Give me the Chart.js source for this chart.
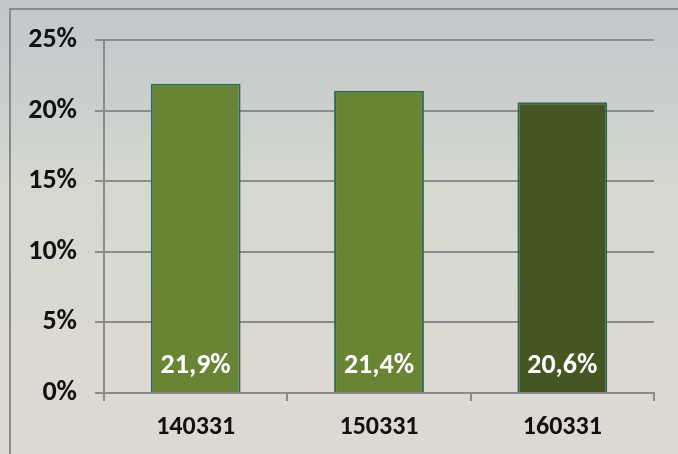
<!DOCTYPE html>
<html>
<head>
<meta charset="utf-8">
<script src="https://cdn.jsdelivr.net/npm/chart.js@4.4.1/dist/chart.umd.min.js"></script>
<style>
  html, body { margin: 0; padding: 0; }
  body {
    width: 678px; height: 454px; overflow: hidden; position: relative;
    background: linear-gradient(to bottom, #c1c7cb 0%, #c9cecd 20%, #d5d8cf 40%, #d8d9d0 60%, #dcd9d2 80%, #ddd9d2 100%);
  }
  #frame {
    position: absolute; left: 9px; top: 8px; right: -5px; bottom: -5px;
    border-left: 2px solid #8b8b8b; border-top: 2px solid #8b8b8b;
  }
  #wrap { position: absolute; left: 0; top: 0; width: 678px; height: 454px; }
</style>
</head>
<body>
<div id="frame"></div>
<div id="wrap"><canvas id="chart" width="678" height="454"></canvas></div>
<script>
let categories = ['140331', '150331', '160331']
let values = [21.9, 21.4, 20.6]
let value_labels = ['21,9%', '21,4%', '20,6%']
let bar_colors = ['#6a8435', '#6a8435', '#465623']
let y_ticks = [0, 5, 10, 15, 20, 25]

let font_family = "Carlito, 'Open Sans', sans-serif"
let grid_color = '#8b8b8b'

let bar_labels = {
  id: 'bar_labels',
  afterDatasetsDraw(chart) {
    let ctx = chart.ctx
    let meta = chart.getDatasetMeta(0)
    let base = chart.scales.y.getPixelForValue(0)
    ctx.save()
    ctx.fillStyle = '#ffffff'
    ctx.font = `bold 28px ${font_family}`
    ctx.textAlign = 'center'
    ctx.textBaseline = 'middle'
    meta.data.forEach((bar, i) => {
      ctx.fillText(value_labels[i], bar.x, base - 27)
    })
    ctx.restore()
  }
}

new Chart(document.getElementById('chart'), {
  type: 'bar',
  data: {
    labels: categories,
    datasets: [{
      data: values,
      backgroundColor: bar_colors,
      borderColor: '#326950',
      borderWidth: 2,
      borderSkipped: 'bottom',
      categoryPercentage: 1,
      barPercentage: 0.49
    }]
  },
  options: {
    responsive: false,
    animation: false,
    layout: { padding: { top: 40, right: 24, left: 0, bottom: 0 } },
    plugins: {
      legend: { display: false },
      tooltip: { enabled: false }
    },
    scales: {
      x: {
        offset: true,
        grid: { drawOnChartArea: false, color: grid_color, lineWidth: 2, tickLength: 8, offset: true },
        border: { color: grid_color, width: 2 },
        ticks: { color: '#111', padding: 11, font: { family: font_family, size: 26, weight: 'bold' } },
        afterFit: s => { s.height = 61 }
      },
      y: {
        min: 0,
        max: 25,
        afterBuildTicks: s => { s.ticks = y_ticks.map(v => ({ value: v })) },
        grid: { color: grid_color, lineWidth: 2, tickLength: 9 },
        border: { color: grid_color, width: 2 },
        ticks: {
          color: '#111',
          padding: 18,
          font: { family: font_family, size: 28, weight: 'bold' },
          callback: v => v + '%'
        },
        afterFit: s => { s.width = 104 }
      }
    }
  },
  plugins: [bar_labels]
})
</script>
</body>
</html>
